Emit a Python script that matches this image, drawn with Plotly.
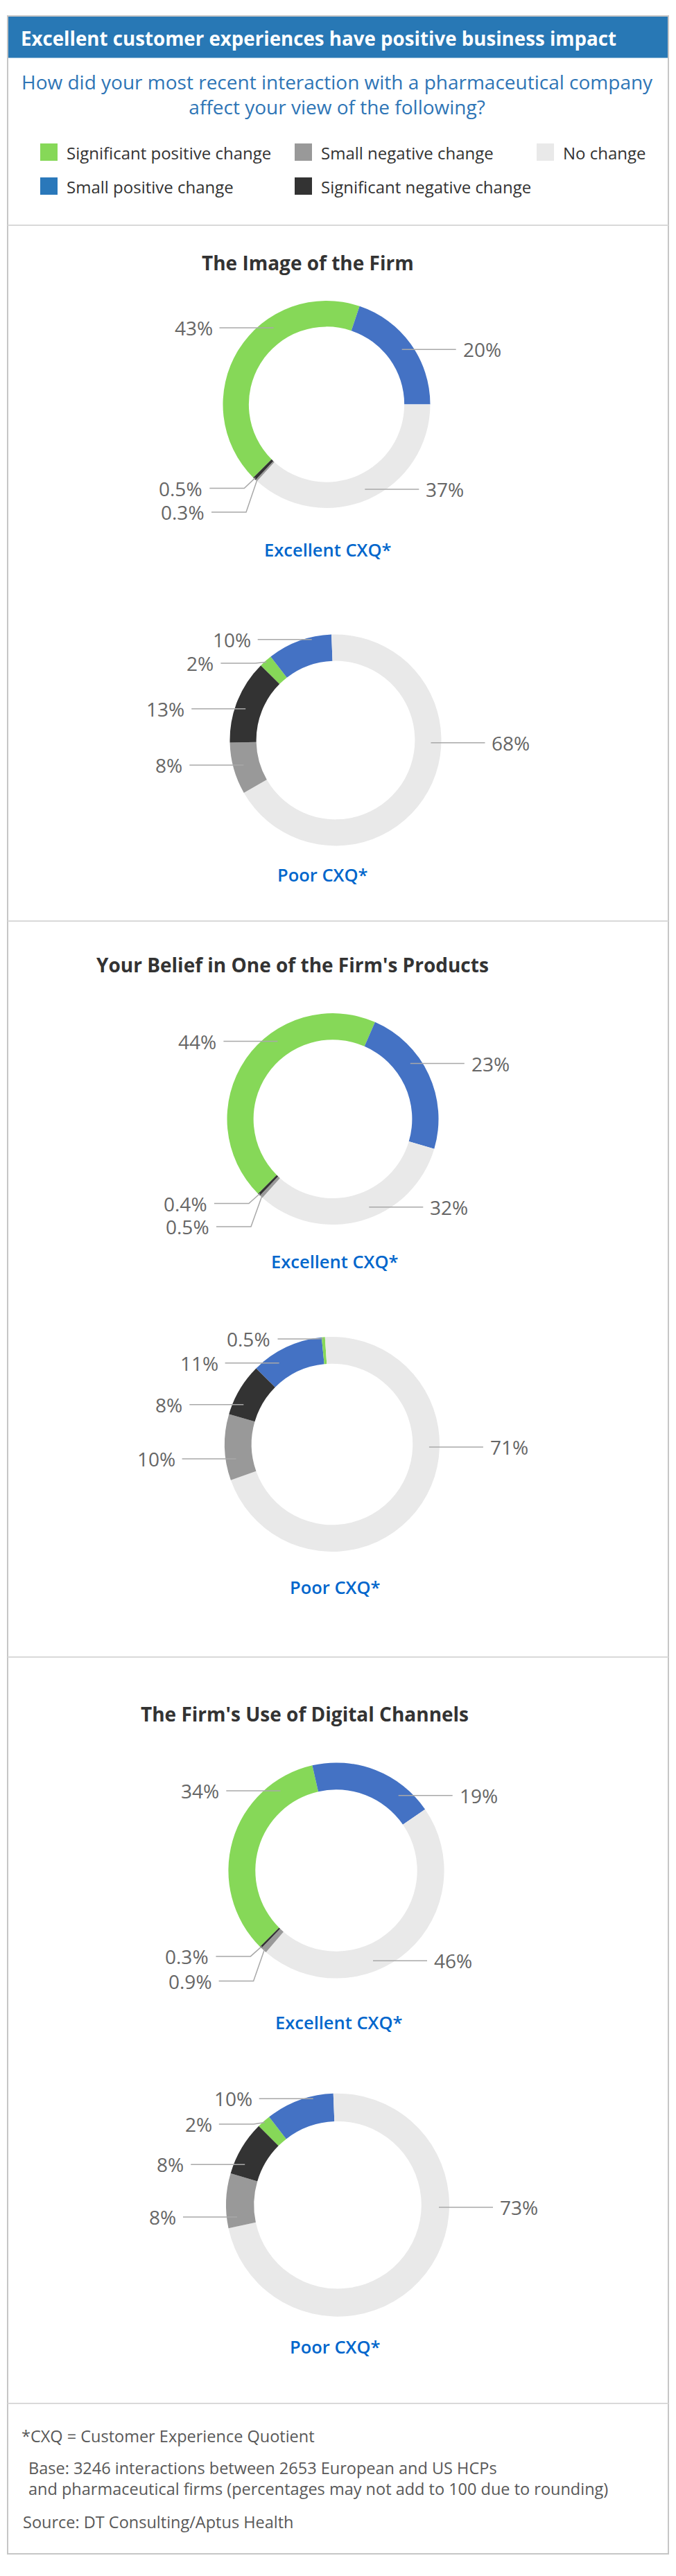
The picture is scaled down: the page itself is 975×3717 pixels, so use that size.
import math
import plotly.graph_objects as go

W, H = 975, 3717

# ---------------- data ----------------
categories = ["Significant positive change", "Small positive change", "No change",
              "Small negative change", "Significant negative change"]

image_excellent = [43, 20, 37, 0.3, 0.5]
image_poor = [2, 10, 68, 8, 13]
belief_excellent = [44, 23, 32, 0.5, 0.4]
belief_poor = [0.5, 11, 71, 10, 8]
digital_excellent = [34, 19, 46, 0.9, 0.3]
digital_poor = [2, 10, 73, 8, 8]

section_titles = ["The Image of the Firm",
                  "Your Belief in One of the Firm's Products",
                  "The Firm's Use of Digital Channels"]
quality_labels = ["Excellent CXQ*", "Poor CXQ*"]
title_text = "Excellent customer experiences have positive business impact"
question_text = ("How did your most recent interaction with a pharmaceutical company"
                 "<br>affect your view of the following?")
footnotes = ["*CXQ = Customer Experience Quotient",
             "Base: 3246 interactions between 2653 European and US HCPs",
             "and pharmaceutical firms (percentages may not add to 100 due to rounding)",
             "Source: DT Consulting/Aptus Health"]

# ---------------- styles ----------------
FONT = "Open Sans, Noto Sans, sans-serif"
SLICE_COLORS = ["#86d858", "#4472c4", "#e9e9e9", "#999999", "#333333"]
LEGEND_COLORS = ["#86d858", "#2a78ba", "#e9e9e9", "#999999", "#333333"]
LABEL_COLOR = "#666666"
CONN_COLOR = "#a8a8a8"

# chart geometry (pixels) and label placement (vertical offset as fraction of radius)
CHARTS = [
    dict(values=image_excellent, order=[0, 1, 2, 3, 4], start=-135, cx=471, cy=583.5, R=149.5,
         dy=[-0.74, -0.53, 0.82, 1.04, 0.81], q=0, qpos=(472.6, 793)),
    dict(values=image_poor, order=[0, 1, 2, 3, 4], start=-45, cx=484, cy=1068, R=152.5,
         dy=[-0.728, -0.953, 0.024, 0.236, -0.297], q=1, qpos=(465, 1262)),
    dict(values=belief_excellent, order=[0, 1, 2, 3, 4], start=-135, cx=480, cy=1614.6, R=152.5,
         dy=[-0.735, -0.525, 0.834, 1.02, 0.80], q=0, qpos=(483, 1820)),
    dict(values=belief_poor, order=[1, 0, 2, 3, 4], start=-45, cx=479, cy=2084, R=155,
         dy=[-0.98, -0.757, 0.026, 0.135, -0.37], q=1, qpos=(483, 2289.5)),
    dict(values=digital_excellent, order=[0, 1, 2, 3, 4], start=-135, cx=485, cy=2699, R=155.6,
         dy=[-0.74, -0.696, 0.837, 1.026, 0.796], q=0, qpos=(488.5, 2918)),
    dict(values=digital_poor, order=[0, 1, 2, 3, 4], start=-45, cx=487, cy=3181.7, R=161,
         dy=[-0.725, -0.953, 0.02, 0.107, -0.363], q=1, qpos=(483, 3386)),
]
TITLE_POS = [(444, 378.8), (422, 1391.8), (439.5, 2472.5)]
DIVIDERS = [325, 1329, 2391, 3468]
BOX = (11, 23, 964, 3685)
HEADER_BOTTOM = 83.5
LEGEND_COLS = [58, 425, 774]
LEGEND_ROWS = [207, 256]
LEGEND_ITEMS = [(0, 0, 0), (1, 0, 3), (2, 0, 2), (0, 1, 1), (1, 1, 4)]  # col,row,category

fig = go.Figure()

# invisible pixel-space axes for decorations
fig.add_trace(go.Scatter(x=[0], y=[0], mode="markers", marker=dict(opacity=0),
                         showlegend=False, hoverinfo="skip"))

shapes = []
annotations = []


def ann(x, y, text, size, color, xanchor="center", weight=None):
    f = dict(family=FONT, size=size, color=color)
    if weight:
        f["weight"] = weight
    annotations.append(dict(x=x, y=y, xref="x", yref="y", text=text, showarrow=False,
                            xanchor=xanchor, yanchor="middle", font=f,
                            align=xanchor if xanchor != "center" else "center"))


# frame, header, dividers
x0, y0, x1, y1 = BOX
shapes.append(dict(type="rect", xref="x", yref="y", x0=x0, x1=x1, y0=y0, y1=HEADER_BOTTOM,
                   fillcolor="#2878b5", line=dict(width=0), layer="below"))
shapes.append(dict(type="rect", xref="x", yref="y", x0=x0, x1=x1, y0=y0, y1=y1,
                   line=dict(color="#c6c6c6", width=2), layer="below"))
for yd in DIVIDERS:
    shapes.append(dict(type="line", xref="x", yref="y", x0=x0, x1=x1, y0=yd, y1=yd,
                       line=dict(color="#d9d9d9", width=2), layer="below"))

ann(28, 55, "<b>%s</b>" % title_text, 27.7, "white", xanchor="left")
ann(486, 136, question_text, 28, "#2e75b6")

# legend
for col, row, k in LEGEND_ITEMS:
    lx, ly = LEGEND_COLS[col], LEGEND_ROWS[row]
    shapes.append(dict(type="rect", xref="x", yref="y", x0=lx, x1=lx + 25, y0=ly, y1=ly + 25,
                       fillcolor=LEGEND_COLORS[k], line=dict(width=0)))
    ann(lx + 36, ly + 13, categories[k], 24, "#333333", xanchor="left")

# section titles
for (tx, ty), t in zip(TITLE_POS, section_titles):
    ann(tx, ty, "<b>%s</b>" % t, 28, "#333333")


def in_range(ang, a0, a1):
    return (ang - a0) % 360 <= (a1 - a0) + 1e-9


for ch in CHARTS:
    vals = ch["values"]
    order = ch["order"]
    cx, cy, R = ch["cx"], ch["cy"], ch["R"]
    fig.add_trace(go.Pie(
        values=[vals[i] for i in order],
        labels=[categories[i] for i in order],
        marker=dict(colors=[SLICE_COLORS[i] for i in order], line=dict(width=0)),
        hole=0.75, sort=False, direction="clockwise", rotation=ch["start"],
        textinfo="none", hoverinfo="label+value", showlegend=False,
        domain=dict(x=[(cx - R) / W, (cx + R) / W], y=[1 - (cy + R) / H, 1 - (cy - R) / H]),
    ))
    # slice angle ranges (clockwise from 12 o'clock), same normalisation as the pie
    total = float(sum(vals))
    ranges = {}
    a = ch["start"]
    for i in order:
        span = vals[i] / total * 360.0
        ranges[i] = (a, a + span)
        a += span
    # labels with connectors
    for k in range(5):
        a0, a1 = ranges[k]
        mid = math.radians((a0 + a1) / 2)
        side = 1 if math.sin(mid) > 0 else -1
        dy = ch["dy"][k] * R
        ly = cy + dy
        r_e = min(max(R - 15, abs(dy) + 4), R - 1)
        straight = False
        if abs(dy) < r_e:
            dx = side * math.sqrt(r_e ** 2 - dy ** 2)
            ang = math.degrees(math.atan2(dx, -dy)) % 360
            if in_range(ang, a0, a1):
                straight = True
        if straight:
            ex = cx + dx
            path = "M %.1f,%.1f L %.1f,%.1f" % (ex, ly, ex + side * 78, ly)
            tx = ex + side * 86
        else:
            px = cx + (R - 2) * math.sin(mid)
            py = cy - (R - 2) * math.cos(mid)
            xb = px + side * 16
            path = "M %.1f,%.1f L %.1f,%.1f L %.1f,%.1f" % (px, py, xb, ly, xb + side * 50, ly)
            tx = xb + side * 58
        shapes.append(dict(type="path", xref="x", yref="y", path=path,
                           line=dict(color=CONN_COLOR, width=1.5), layer="above"))
        ann(tx, ly, "%g%%" % vals[k], 28, LABEL_COLOR, xanchor="left" if side > 0 else "right")
    qx, qy = ch["qpos"]
    ann(qx, qy, quality_labels[ch["q"]], 25.5, "#0066cc", weight=600)

# footnotes
FOOT_POS = [(29, 3515), (39, 3561), (39, 3591), (31, 3639)]
for (fx, fy), t in zip(FOOT_POS, footnotes):
    ann(fx, fy, t, 23.5, "#595959", xanchor="left")

fig.update_layout(
    width=W, height=H, margin=dict(l=0, r=0, t=0, b=0),
    paper_bgcolor="white", plot_bgcolor="white",
    font=dict(family=FONT),
    xaxis=dict(range=[0, W], visible=False, fixedrange=True),
    yaxis=dict(range=[H, 0], visible=False, fixedrange=True),
    shapes=shapes, annotations=annotations, showlegend=False,
)

fig.write_html("out.html")
